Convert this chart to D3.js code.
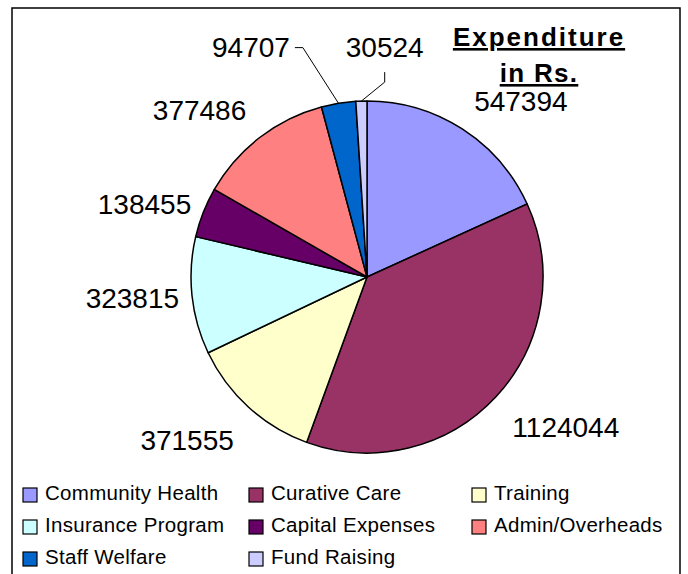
<!DOCTYPE html>
<html>
<head>
<meta charset="utf-8">
<script src="https://cdn.jsdelivr.net/npm/d3@7"></script>
<style>
    body { margin: 0; background: #fff; }
    text { font-family: "Liberation Sans", Arial, sans-serif; }
</style>
</head>
<body>
<div id="chart"></div>
<script>
var categories = ['Community Health', 'Curative Care', 'Training', 'Insurance Program',
                  'Capital Expenses', 'Admin/Overheads', 'Staff Welfare', 'Fund Raising'];
var expenditure = [547394, 1124044, 371555, 323815, 138455, 377486, 94707, 30524];
var colours = ['#9999ff', '#993366', '#ffffcc', '#ccffff', '#660066', '#ff8080', '#0066cc', '#ccccff'];
var titleLines = ['Expenditure', 'in Rs.'];

// labels that were dragged off the pie, nudged from their default spot
var moved = {
    'Staff Welfare': { dx: -84, dy: -25, leader: 'side' },
    'Fund Raising': { dx: 24, dy: -22, leader: 'below' }
};

var width = 688, height = 574;
var cx = 367, cy = 277, radius = 176;

var svg = d3.select('#chart').append('svg')
    .attr('width', width)
    .attr('height', height);

// frame
svg.append('rect')
    .attr('x', 12)
    .attr('y', 8)
    .attr('width', 668)
    .attr('height', 580)
    .attr('fill', 'none')
    .attr('stroke', '#000')
    .attr('stroke-width', 1.5);

var data = categories.map((c, i) => ({ name: c, value: expenditure[i], colour: colours[i] }));

var pie = d3.pie()
    .sort(null)
    .value(d => d.value);

var arc = d3.arc()
    .innerRadius(0)
    .outerRadius(radius);

var g = svg.append('g')
    .attr('transform', 'translate(' + cx + ',' + cy + ')');

var arcs = pie(data);

g.selectAll('.slice')
    .data(arcs)
    .enter()
    .append('path')
    .attr('class', 'slice')
    .attr('d', arc)
    .attr('fill', d => d.data.colour)
    .attr('stroke', '#000')
    .attr('stroke-width', 1.5)
    .attr('stroke-linejoin', 'round');

// data labels
var labelR = radius + 22;
arcs.forEach(d => {
    var a = (d.startAngle + d.endAngle) / 2;
    var s = Math.sin(a), c = Math.cos(a);
    var side = Math.abs(c) < 0.5;
    var x = s * (side ? radius + 13 : labelR), y = -c * labelR;
    var anchor = s > 0.2 ? 'start' : (s < -0.2 ? 'end' : 'middle');
    var base = c > 0.5 ? y : (c < -0.5 ? y + 26 : y + 10);
    var m = moved[d.data.name];
    if (m) { x += m.dx; base += m.dy; }

    var t = g.append('text')
        .attr('x', x)
        .attr('y', base)
        .attr('text-anchor', anchor)
        .attr('font-size', 28)
        .attr('fill', '#000')
        .text(d.data.value);

    if (m) {
        var bb = t.node().getBBox();
        var px = s * radius, py = -c * radius;
        var pts;
        if (m.leader == 'side') {
            var sx = bb.x + bb.width + 5, sy = base - 9;
            pts = [[sx, sy], [sx + 8, sy], [px, py]];
        } else {
            var bx = bb.x + bb.width / 2;
            pts = [[bx, base + 15], [bx, base + 25], [px, py]];
        }
        g.append('path')
            .attr('d', d3.line()(pts))
            .attr('fill', 'none')
            .attr('stroke', '#000')
            .attr('stroke-width', 1);
    }
});

// title
var title = svg.append('g').attr('class', 'title');
titleLines.forEach((line, i) => {
    title.append('text')
        .attr('x', 539)
        .attr('y', 46 + i * 36)
        .attr('text-anchor', 'middle')
        .attr('font-size', 26)
        .attr('font-weight', 'bold')
        .attr('letter-spacing', i == 0 ? 2 : 1.3)
        .style('text-decoration', 'underline')
        .text(line);
});

// legend
var colX = [23, 249, 472];
var legend = svg.append('g').attr('class', 'legend');
data.forEach((d, i) => {
    var col = i % 3, row = Math.floor(i / 3);
    var lg = legend.append('g')
        .attr('transform', 'translate(' + colX[col] + ',' + (488 + row * 32) + ')');
    lg.append('rect')
        .attr('width', 14)
        .attr('height', 14)
        .attr('fill', d.colour)
        .attr('stroke', '#000')
        .attr('stroke-width', 1.2);
    lg.append('text')
        .attr('x', 22)
        .attr('y', 12)
        .attr('font-size', 20.5)
        .attr('letter-spacing', 0.3)
        .attr('fill', '#000')
        .text(d.name);
});
</script>
</body>
</html>
